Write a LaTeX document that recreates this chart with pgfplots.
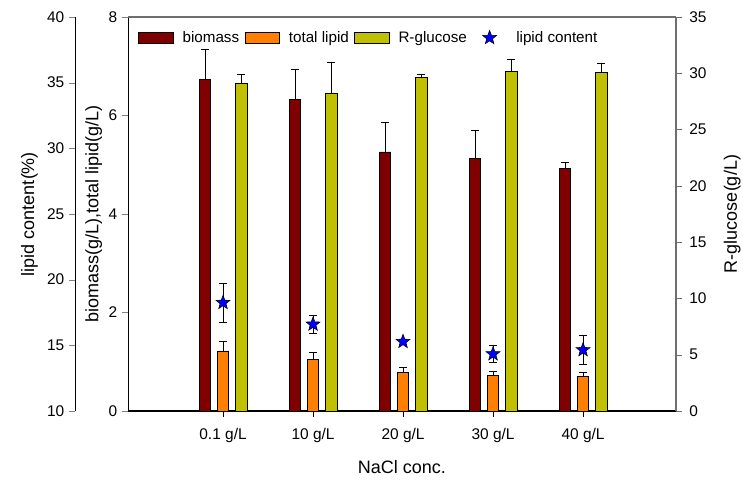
\documentclass[border=0pt]{standalone}
\usepackage{pgfplots}
\pgfplotsset{compat=1.18}
\usepackage{fontspec}
\setmainfont{Liberation Sans}

\definecolor{biomasscol}{RGB}{128,0,0}
\definecolor{lipidcol}{RGB}{255,128,0}
\definecolor{glucosecol}{RGB}{192,192,0}
\definecolor{framegray}{RGB}{110,110,110}

% filled five-pointed star
\pgfdeclareplotmark{fstar}{%
  \pgfpathmoveto{\pgfpointpolar{90}{\pgfplotmarksize}}%
  \pgfpathlineto{\pgfpointpolar{126}{0.42\pgfplotmarksize}}%
  \pgfpathlineto{\pgfpointpolar{162}{\pgfplotmarksize}}%
  \pgfpathlineto{\pgfpointpolar{198}{0.42\pgfplotmarksize}}%
  \pgfpathlineto{\pgfpointpolar{234}{\pgfplotmarksize}}%
  \pgfpathlineto{\pgfpointpolar{270}{0.42\pgfplotmarksize}}%
  \pgfpathlineto{\pgfpointpolar{306}{\pgfplotmarksize}}%
  \pgfpathlineto{\pgfpointpolar{342}{0.42\pgfplotmarksize}}%
  \pgfpathlineto{\pgfpointpolar{18}{\pgfplotmarksize}}%
  \pgfpathlineto{\pgfpointpolar{54}{0.42\pgfplotmarksize}}%
  \pgfpathclose
  \pgfusepathqfillstroke}

% biomass (g/L)
\pgfplotstableread{
x    y     e
-0.2 6.73  0.62
0.8  6.33  0.61
1.8  5.26  0.61
2.8  5.13  0.57
3.8  4.93  0.12
}\biomass
% total lipid (g/L)
\pgfplotstableread{
x    y     e
0    1.22  0.20
1    1.05  0.14
2    0.79  0.09
3    0.72  0.09
4    0.71  0.08
}\totallipid
% residual glucose (g/L)
\pgfplotstableread{
x     y      e
0.205 29.10  0.80
1.205 28.25  2.70
2.205 29.64  0.30
3.205 30.20  1.07
4.205 30.09  0.80
}\glucose
% lipid content (%)
\pgfplotstableread{
x  y      e
0  18.25  1.47
1  16.60  0.67
2  15.28  0.20
3  14.34  0.66
4  14.65  1.14
}\lipidcontent

\pgfplotsset{
  base/.style={
    scale only axis,
    width=411pt, height=295.5pt,
    xmin=-1.056, xmax=5.033,
    tick align=outside,
    major tick length=4.5pt,
    /pgf/number format/assume math mode=true,
    tick label style={font=\fontsize{11.6}{13}\selectfont},
    label style={font=\fontsize{13.5}{15}\selectfont},
    minor tick num=0,
    clip=false,
  },
  errstyle/.style={
    /pgfplots/error bars/error bar style={black, line width=0.6pt},
    /pgfplots/error bars/error mark options={rotate=90, black, mark size=3pt, line width=0.6pt},
  },
  barstyle/.style={
    ybar, bar width=0.128, bar shift=0pt,
    draw=black, line width=0.5pt,
    /pgfplots/error bars/y dir=plus,
    /pgfplots/error bars/y explicit,
    errstyle,
  },
}

\begin{document}
\begin{tikzpicture}
\path[use as bounding box] (-96pt,-52.5pt) rectangle (461.25pt,308.25pt);

% biomass and total lipid on the inner left axis
\begin{axis}[base,
  ymin=0, ymax=8, ytick={0,2,...,8},
  axis y line*=left, axis x line*=bottom,
  x axis line style={line width=1.2pt},
  xtick={0,1,2,3,4},
  xticklabels={0.1 g/L,10 g/L,20 g/L,30 g/L,40 g/L},
  xtick style={black},
  xticklabel style={yshift=-5pt},
  xlabel={NaCl conc.},
  xlabel style={yshift=-6.5pt},
  ylabel={biomass(g/L),total lipid(g/L)},
  ylabel style={yshift=-2pt},
  legend columns=-1,
  legend cell align=left,
  legend style={at={(0,1)}, anchor=north west, xshift=7.5pt, yshift=-8.5pt,
    draw=none, fill=none, inner sep=0pt,
    font=\fontsize{11.4}{13}\selectfont,
    /tikz/every even column/.append style={column sep=2pt}},
  legend image code/.code={\draw[#1,draw=black,line width=0.5pt] (0pt,-4pt) rectangle (26pt,4pt); \path[draw=none,fill=none] (0pt,0pt) rectangle (31pt,0.1pt);},
]
\addplot[barstyle, fill=biomasscol] table[x=x,y=y,y error=e] {\biomass};
\addlegendentry{biomass}
\addplot[barstyle, fill=lipidcol] table[x=x,y=y,y error=e] {\totallipid};
\addlegendentry{total lipid}
\addlegendimage{fill=glucosecol}
\addlegendentry{R-glucose}
\addlegendimage{legend image code/.code={\draw[draw=black,fill=blue,line width=0.4pt] plot[mark=fstar,mark size=5.5pt] coordinates {(13pt,0pt)}; \path[draw=none,fill=none] (0pt,0pt) rectangle (31pt,0.1pt);}}
\addlegendentry{lipid content}
\end{axis}

% residual glucose on the right axis
\begin{axis}[base,
  ymin=0, ymax=35, ytick={0,5,...,35},
  axis y line*=right, axis x line*=top,
  xtick=\empty,
  axis line style={framegray, line width=0.8pt},
  ytick style={framegray},
  yticklabel style={xshift=2pt},
  ylabel={R-glucose(g/L)},
  ylabel style={yshift=-6pt},
]
\addplot[barstyle, fill=glucosecol] table[x=x,y=y,y error=e] {\glucose};
\end{axis}

% lipid content on the outer left axis
\begin{axis}[base,
  ymin=10, ymax=40, ytick={10,15,...,40},
  axis y line*=left, axis x line=none,
  axis y line shift=39.75pt,
  ylabel={lipid content(\%)},
]
\addplot[only marks, mark=fstar, mark size=5.5pt, draw=black, fill=blue, line width=0.4pt,
  /pgfplots/error bars/y dir=both, /pgfplots/error bars/y explicit, errstyle]
  table[x=x,y=y,y error=e] {\lipidcontent};
\end{axis}
\end{tikzpicture}
\end{document}
